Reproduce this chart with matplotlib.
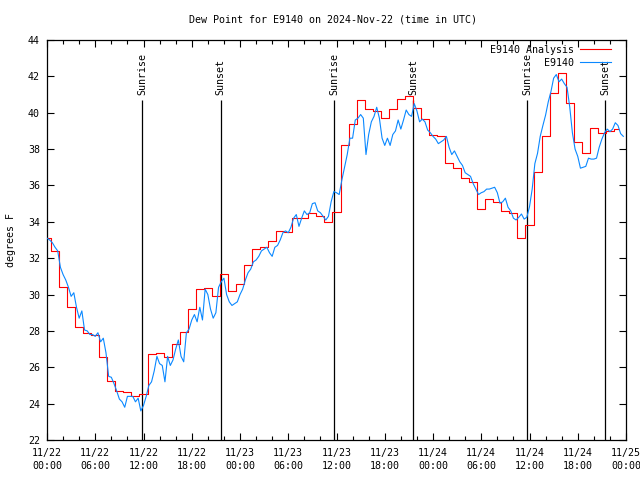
import numpy as np
import matplotlib
matplotlib.use('Agg')
import matplotlib.pyplot as plt

# hourly analysis values (hours since 11/22 00:00 UTC)
analysis = [33.1, 32.4, 30.4, 29.3, 28.2, 27.9, 27.8, 26.55, 25.27, 24.7,
            24.64, 24.42, 24.53, 26.73, 26.8, 26.55, 27.3, 27.93, 29.2, 30.28,
            30.36, 29.92, 31.13, 30.2, 30.6, 31.6, 32.52, 32.63, 32.96, 33.47,
            33.42, 34.2, 34.2, 34.5, 34.3, 34.0, 34.55, 38.2, 39.36, 40.7,
            40.2, 40.1, 39.7, 40.2, 40.75, 40.93, 40.25, 39.65, 38.8, 38.74,
            37.22, 36.98, 36.4, 36.2, 34.7, 35.26, 35.1, 34.6, 34.5, 33.1,
            33.8, 36.76, 38.72, 41.07, 42.2, 40.55, 38.4, 37.8, 39.14, 38.9,
            39.0, 39.1]
analysis_hours = np.arange(len(analysis))

# station obs, every 20 minutes
station = [33.1, 33.0, 32.85, 32.6, 32.4, 31.5, 31.1, 30.8, 30.4, 29.9, 30.1, 29.3,
           28.7, 29.1, 28.05, 28.0, 27.8, 27.8, 27.7, 27.9, 27.4, 27.6, 26.8, 25.5,
           25.45, 25.1, 24.7, 24.25, 24.1, 23.8, 24.4, 24.4, 24.4, 24.1, 24.3, 23.6,
           23.9, 24.4, 25.0, 25.2, 25.8, 26.6, 26.2, 26.1, 25.2, 26.6, 26.1, 26.4,
           27.0, 27.5, 26.6, 26.3, 27.9, 28.1,
           28.6, 28.9, 28.5, 29.3, 28.6, 30.3, 30.0, 29.2, 28.7, 29.0, 30.4, 30.7,
           30.9, 30.0, 29.6, 29.4, 29.5, 29.6, 30.0, 30.3, 30.8, 31.2, 31.4, 31.8,
           31.9, 32.1, 32.4, 32.5, 32.6, 32.3, 32.1, 32.6, 32.7, 33.0, 33.4, 33.5,
           33.4, 33.7, 34.2, 34.4, 33.75, 34.2, 34.6, 34.4, 34.5, 35.0, 35.05, 34.6,
           34.5, 34.3, 34.1, 34.3, 35.1, 35.66,
           35.6, 35.5, 36.3, 37.0, 37.7, 38.6, 38.6, 39.6, 39.7, 39.9, 39.7, 37.7,
           38.8, 39.5, 39.8, 40.3, 39.7, 38.6, 38.2, 38.6, 38.2, 38.8, 39.0, 39.6,
           39.1, 39.6, 40.15, 39.9, 39.8, 40.5, 40.1, 39.5, 39.65, 39.5, 39.05, 38.9,
           38.7, 38.55, 38.3, 38.4, 38.5, 38.7, 38.1, 37.7, 37.9, 37.6, 37.3, 37.1,
           36.7, 36.6, 36.5, 36.1, 35.8, 35.5,
           35.6, 35.66, 35.8, 35.8, 35.85, 35.9, 35.6, 35.02, 35.1, 35.3, 34.8, 34.6,
           34.2, 34.1, 34.25, 34.43, 34.15, 34.25, 34.83, 35.8, 37.2, 37.77, 38.7, 39.3,
           39.87, 40.6, 41.16, 41.9, 42.1, 41.7, 41.85, 41.6, 41.4, 40.33, 38.9, 38.0,
           37.6, 36.95, 37.0, 37.05, 37.5, 37.45, 37.45, 37.5, 38.1, 38.55, 38.9, 39.1,
           38.96, 39.1, 39.45, 39.3, 38.85, 38.7]
station_hours = np.arange(len(station)) / 3.0

sun_hours = [11.85, 21.6, 35.75, 45.5, 59.72, 69.45]
sun_names = ['Sunrise', 'Sunset', 'Sunrise', 'Sunset', 'Sunrise', 'Sunset']

xtick_hours = np.arange(0, 73, 6)
xtick_labels = ['11/22\n00:00', '11/22\n06:00', '11/22\n12:00', '11/22\n18:00',
                '11/23\n00:00', '11/23\n06:00', '11/23\n12:00', '11/23\n18:00',
                '11/24\n00:00', '11/24\n06:00', '11/24\n12:00', '11/24\n18:00',
                '11/25\n00:00']

plt.rcParams['font.family'] = 'DejaVu Sans Mono'
plt.rcParams['font.size'] = 7.2

fig = plt.figure(figsize=(6.4, 4.8), dpi=100)
ax = fig.add_axes([47/640, 40/480, 579/640, 400/480])

for h, name in zip(sun_hours, sun_names):
    ax.vlines(h, 22, 40.7, color='k', lw=0.9, zorder=1)
    ax.text(h, 40.95, name, rotation=90, ha='center', va='bottom')

ax.plot(analysis_hours, analysis, drawstyle='steps-mid', color='#ff0000', lw=0.8,
        label='E9140 Analysis', zorder=2)
ax.plot(station_hours, station, color='#0a88ff', lw=0.8, label='E9140', zorder=3)

ax.set_xlim(0, 72)
ax.set_ylim(22, 44)
ax.set_xticks(xtick_hours)
ax.set_xticklabels(xtick_labels, linespacing=1.35)
ax.set_xticks(np.arange(0, 73, 2), minor=True)
ax.set_yticks(np.arange(22, 45, 2))
ax.tick_params(which='both', direction='in', top=True, right=True, width=0.8)
ax.tick_params(which='major', length=5)
ax.tick_params(which='minor', length=3)
ax.tick_params(axis='x', pad=6)
ax.tick_params(axis='y', pad=5)
for s in ax.spines.values():
    s.set_linewidth(0.9)

ax.set_ylabel('degrees F', labelpad=9)
fig.text(0.52, 1 - 20/480, 'Dew Point for E9140 on 2024-Nov-22 (time in UTC)',
         ha='center', va='center')

ax.legend(loc='upper right', bbox_to_anchor=(1 - 10/579, 1.0), frameon=False,
          markerfirst=False, handlelength=3.1, handletextpad=0.6, labelspacing=0.3,
          borderaxespad=0.2, borderpad=0.3)

fig.savefig('out.png', dpi=100)
